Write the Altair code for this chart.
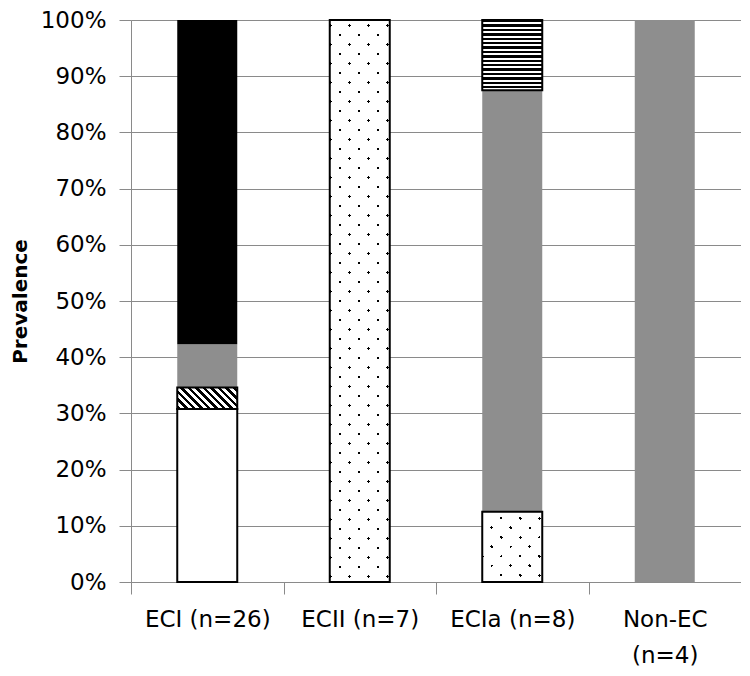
import altair as alt
import pandas as pd

# ---- data ----
categories = ["ECI (n=26)", "ECII (n=7)", "ECIa (n=8)", "Non-EC (n=4)"]
series_order = ["white", "dotted", "hatched", "gray", "striped", "black"]
white_counts = [8, 0, 0, 0]
dotted_counts = [0, 7, 1, 0]
hatched_counts = [1, 0, 0, 0]
gray_counts = [2, 0, 6, 4]
striped_counts = [0, 0, 1, 0]
black_counts = [15, 0, 0, 0]

counts = {
    "white": white_counts,
    "dotted": dotted_counts,
    "hatched": hatched_counts,
    "gray": gray_counts,
    "striped": striped_counts,
    "black": black_counts,
}

# ---- layout ----
W, H, BAR = 610, 562, 60
GRAY = "#8e8e8e"
AXIS_GRAY = "#8a8a8a"
FONT = "DejaVu Sans"

rows = []
for i, cat in enumerate(categories):
    total = sum(counts[s][i] for s in series_order)
    cum = 0
    for s in series_order:
        c = counts[s][i]
        if c > 0:
            rows.append({"category": cat, "series": s,
                         "start": cum / total, "end": (cum + c) / total})
            cum += c
df = pd.DataFrame(rows)


def stripe_stops(L, period, on, on_c, off_c, phase=0.0):
    stops = []

    def add(u, c):
        t = min(max(u / L, 0.0), 1.0)
        stops.append({"offset": round(t, 5), "color": c})

    u = phase - period
    while u < L:
        if u + period >= 0:
            add(u, on_c)
            add(u + on, on_c)
            add(u + on, off_c)
            add(u + period, off_c)
        u += period
    return stops


def grad_vertical(h, period, on, on_c, off_c, phase=0.0):
    return {"gradient": "linear", "x1": 0, "y1": 0, "x2": 0, "y2": 1,
            "stops": stripe_stops(h, period, on, on_c, off_c, phase)}


def grad_slash(w, h, period, on, on_c, off_c, phase=0.0):
    # lines "/" : x + y = const
    a = (w + h) / (w * w + h * h)
    return {"gradient": "linear", "x1": 0, "y1": 0,
            "x2": round(a * w, 5), "y2": round(a * h, 5),
            "stops": stripe_stops(w + h, period, on, on_c, off_c, phase)}


def grad_backslash(w, h, period, on, on_c, off_c, phase=0.0):
    # lines "\" : x - y = const
    a = (w + h) / (w * w + h * h)
    return {"gradient": "linear", "x1": 0, "y1": 1,
            "x2": round(a * w, 5), "y2": round(1 - a * h, 5),
            "stops": stripe_stops(w + h, period, on, on_c, off_c, phase)}


x_enc = alt.X("category:N", sort=categories,
              scale=alt.Scale(paddingInner=0, paddingOuter=0),
              axis=alt.Axis(title=None, labelAngle=0, labelFontSize=23,
                            labelFont=FONT, labelColor="black",
                            labelPadding=14, labelLineHeight=36,
                            labelExpr="length(datum.label) > 11 ? split(datum.label, ' ') : datum.label",
                            tickBand="extent", tickSize=12, tickColor=AXIS_GRAY,
                            domainColor=AXIS_GRAY, grid=False))
y_enc = alt.Y("start:Q", scale=alt.Scale(domain=[0, 1], nice=False),
              axis=alt.Axis(title="Prevalence", format=".0%",
                            values=[i / 10 for i in range(11)],
                            labelFontSize=23, labelFont=FONT, labelColor="black",
                            labelPadding=13, tickSize=12, tickColor=AXIS_GRAY,
                            domainColor=AXIS_GRAY, gridColor=AXIS_GRAY,
                            gridOpacity=1, titleFont=FONT, titleFontSize=20,
                            titleFontWeight="bold", titleColor="black",
                            titleX=-101))
y2_enc = alt.Y2("end:Q")


def seg(series_name, cat=None):
    d = df[df["series"] == series_name]
    if cat is not None:
        d = d[d["category"] == cat]
    return d


layers = []
# gray (no outline)
layers.append(alt.Chart(seg("gray")).mark_bar(size=BAR, fill=GRAY, strokeWidth=0)
              .encode(x=x_enc, y=y_enc, y2=y2_enc))
# black
layers.append(alt.Chart(seg("black")).mark_bar(size=BAR, fill="black", strokeWidth=0)
              .encode(x=x_enc, y=y_enc, y2=y2_enc))
# white with outline
layers.append(alt.Chart(seg("white")).mark_bar(size=BAR, fill="white", stroke="black",
                                               strokeWidth=2)
              .encode(x=x_enc, y=y_enc, y2=y2_enc))

# hatched "\" segments
for _, r in seg("hatched").iterrows():
    h = (r["end"] - r["start"]) * H
    g = grad_backslash(BAR, h, 7.5, 3.4, "black", "white", 1.0)
    layers.append(alt.Chart(seg("hatched", r["category"]))
                  .mark_bar(size=BAR, fill=g, stroke="black", strokeWidth=2)
                  .encode(x=x_enc, y=y_enc, y2=y2_enc))

# horizontal striped segments
for _, r in seg("striped").iterrows():
    h = (r["end"] - r["start"]) * H
    g = grad_vertical(h, 4.4, 2.4, "black", "white", 0.0)
    layers.append(alt.Chart(seg("striped", r["category"]))
                  .mark_bar(size=BAR, fill=g, stroke="black", strokeWidth=2)
                  .encode(x=x_enc, y=y_enc, y2=y2_enc))

# dotted segments: "/" thin lines masked by "\" gaps -> staggered dots
for _, r in seg("dotted").iterrows():
    h = (r["end"] - r["start"]) * H
    g1 = grad_slash(BAR, h, 19, 3.0, "black", "white", 5.0)
    g2 = grad_backslash(BAR, h, 19, 3.0, "rgba(255,255,255,0)", "white", 5.0)
    d = seg("dotted", r["category"])
    layers.append(alt.Chart(d).mark_bar(size=BAR, fill=g1, strokeWidth=0)
                  .encode(x=x_enc, y=y_enc, y2=y2_enc))
    layers.append(alt.Chart(d).mark_bar(size=BAR, fill=g2, stroke="black", strokeWidth=2)
                  .encode(x=x_enc, y=y_enc, y2=y2_enc))

chart = alt.layer(*layers).properties(
    width=W, height=H,
    autosize=alt.AutoSizeParams(type="none"),
    padding={"left": 123, "top": 12, "right": 0, "bottom": 86},
).configure_view(stroke=None).configure(background="white")

chart.save("out.html", embed_options={"renderer": "svg", "actions": False})
